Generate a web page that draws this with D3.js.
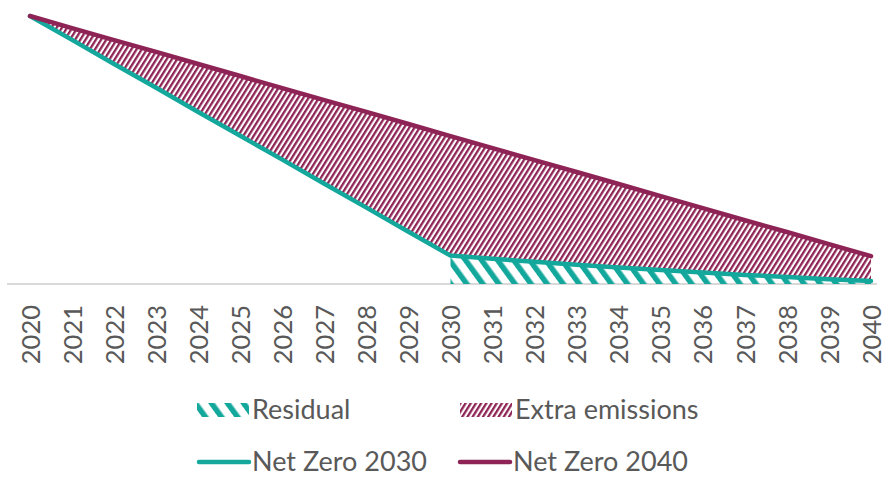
<!DOCTYPE html>
<html>
<head>
<meta charset="utf-8">
<script src="https://cdn.jsdelivr.net/npm/d3@7/dist/d3.min.js"></script>
<style>
  html, body { margin: 0; padding: 0; background: #ffffff; }
  svg { display: block; font-family: Lato, "Open Sans", sans-serif; }
</style>
</head>
<body>
<svg id="chart" width="883" height="477"></svg>
<script>
// Emission pathways, indexed to 2020 = 100
const years = d3.range(2020, 2041);
const netZero2030 = [100, 91.1, 82.1, 73.2, 64.2, 55.3, 46.4, 37.4, 28.5, 19.5,
                     10.6, 9.4, 8.3, 7.2, 6.2, 5.2, 4.3, 3.4, 2.6, 1.8, 1.1];
const netZero2040 = [100, 95.5, 91.0, 86.6, 82.1, 77.6, 73.1, 68.6, 64.2, 59.7,
                     55.2, 50.7, 46.2, 41.8, 37.3, 32.8, 28.3, 23.8, 19.4, 14.9, 10.4];
const residualStart = 2030;
const legendItems = ["Residual", "Extra emissions", "Net Zero 2030", "Net Zero 2040"];

const TEAL = "#14a89d";
const PURPLE = "#8e2456";
const TEXT = "#595959";

const svg = d3.select("#chart");

const x = d3.scalePoint().domain(years).range([30, 871]);
const y = d3.scaleLinear().domain([0, 100]).range([284, 16]);

const rows = years.map((yr, i) => ({ year: yr, nz30: netZero2030[i], nz40: netZero2040[i] }));

// Hatch fills
const defs = svg.append("defs");
function hatch(id, period, stripe, angle, color) {
  const p = defs.append("pattern")
    .attr("id", id)
    .attr("patternUnits", "userSpaceOnUse")
    .attr("width", period).attr("height", period)
    .attr("patternTransform", `rotate(${angle})`);
  p.append("rect").attr("x", 0).attr("y", 0)
    .attr("width", stripe).attr("height", period).attr("fill", color);
}
hatch("hatch-extra", 4.4, 2.3, 32, PURPLE);
hatch("hatch-residual", 13, 5.5, -36, TEAL);

// Baseline axis
svg.append("line")
  .attr("x1", 7).attr("x2", 877)
  .attr("y1", y(0)).attr("y2", y(0))
  .attr("stroke", "#d9d9d9").attr("stroke-width", 2);

// Residual area (after the 2030 target year)
const residualArea = d3.area()
  .x(d => x(d.year)).y0(y(0)).y1(d => y(d.nz30));
svg.append("path")
  .datum(rows.filter(d => d.year >= residualStart))
  .attr("d", residualArea)
  .attr("fill", "url(#hatch-residual)");

// Extra emissions between the two pathways
const extraArea = d3.area()
  .x(d => x(d.year)).y0(d => y(d.nz30)).y1(d => y(d.nz40));
svg.append("path")
  .datum(rows)
  .attr("d", extraArea)
  .attr("fill", "url(#hatch-extra)");

// Pathway lines
const line = key => d3.line().x(d => x(d.year)).y(d => y(d[key]));
svg.append("path").datum(rows).attr("d", line("nz30"))
  .attr("fill", "none").attr("stroke", TEAL).attr("stroke-width", 4.5)
  .attr("stroke-linecap", "round").attr("stroke-linejoin", "round");
svg.append("path").datum(rows).attr("d", line("nz40"))
  .attr("fill", "none").attr("stroke", PURPLE).attr("stroke-width", 4.5)
  .attr("stroke-linecap", "round").attr("stroke-linejoin", "round");

// Year labels (rotated)
const axis = d3.axisBottom(x).tickSize(0).tickPadding(0);
const gx = svg.append("g").attr("transform", `translate(0, ${y(0)})`).call(axis);
gx.select(".domain").remove();
gx.selectAll(".tick text")
  .attr("font-family", "Lato, 'Open Sans', sans-serif")
  .attr("font-size", 25.5)
  .attr("fill", TEXT)
  .attr("text-anchor", "end")
  .attr("dy", "0.36em")
  .attr("transform", "translate(0, 21) rotate(-90)")
  .attr("x", 0).attr("y", 0);

// Legend
const legend = svg.append("g").attr("font-size", 27).attr("fill", TEXT);
const legendPos = [
  { x: 197, y: 410 }, { x: 460, y: 410 },
  { x: 197, y: 462 }, { x: 458, y: 462 }
];
legendItems.forEach((name, i) => {
  const g = legend.append("g").attr("transform", `translate(${legendPos[i].x}, ${legendPos[i].y})`);
  if (i === 0) {
    g.append("rect").attr("x", 0).attr("y", -7).attr("width", 52).attr("height", 14)
      .attr("fill", "url(#hatch-residual)");
  } else if (i === 1) {
    g.append("rect").attr("x", 0).attr("y", -7).attr("width", 52).attr("height", 14)
      .attr("fill", "url(#hatch-extra)");
  } else {
    g.append("line").attr("x1", 2).attr("x2", 52).attr("y1", 0).attr("y2", 0)
      .attr("stroke", i === 2 ? TEAL : PURPLE).attr("stroke-width", 4.5)
      .attr("stroke-linecap", "round");
  }
  g.append("text").attr("x", 55).attr("y", 0).attr("dy", "0.35em").text(name);
});
</script>
</body>
</html>
